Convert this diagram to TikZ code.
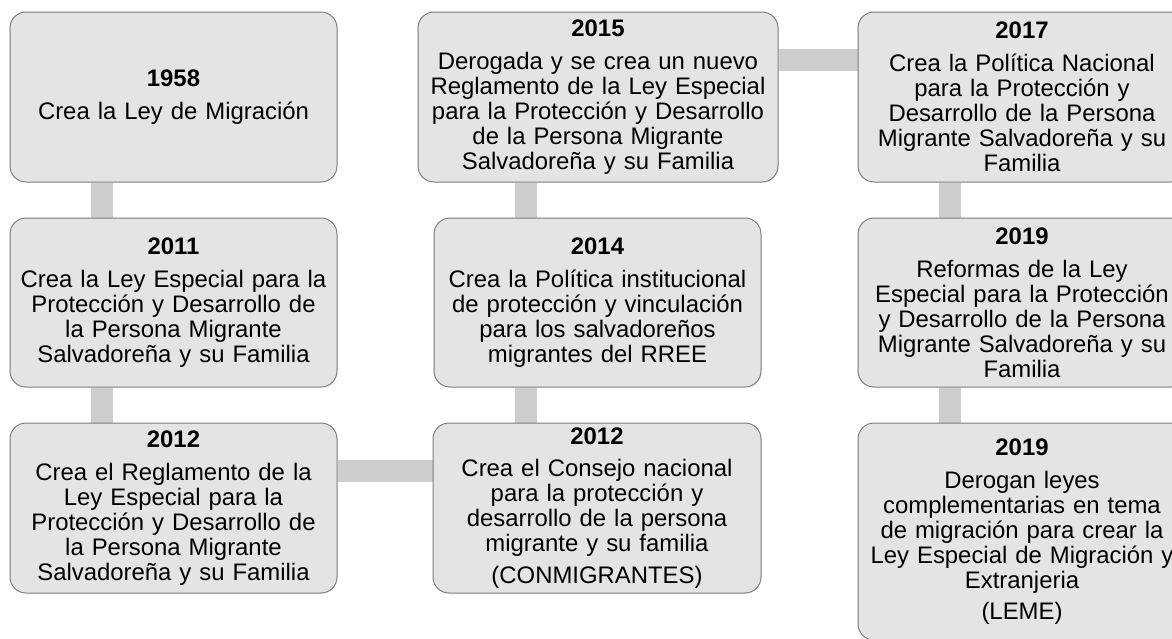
\documentclass[tikz,border=0pt]{standalone}
\usepackage{fontspec}
\setmainfont{Liberation Sans}
\usetikzlibrary{backgrounds}
\definecolor{boxfill}{RGB}{228,228,228}
\definecolor{boxline}{RGB}{125,125,125}
\definecolor{connfill}{RGB}{207,206,207}
\begin{document}
\begin{tikzpicture}[x=1pt,y=-1pt,
  evt/.style={draw=boxline, fill=boxfill, line width=1pt, rounded corners=16pt,
    inner sep=0pt, align=center, font=\fontsize{23.9}{25}\selectfont, text=black},
  conn/.style={draw=connfill, line width=22pt}]
\useasboundingbox (0,0) rectangle (1172,638);
% column 1
\node[evt, text width=327pt, minimum height=170pt] (a1) at (173.5,97)
  {\textbf{1958}\\[8pt]Crea la Ley de Migración};
\node[evt, text width=327pt, minimum height=169pt] (a2) at (173.5,302.5)
  {\textbf{2011}\\[8pt]Crea la Ley Especial para la\\Protección y Desarrollo de\\la Persona Migrante\\Salvadoreña y su Familia};
\node[evt, text width=327pt, minimum height=170pt] (a3) at (173.5,508)
  {\textbf{2012}\\[8pt]Crea el Reglamento de la\\Ley Especial para la\\Protección y Desarrollo de\\la Persona Migrante\\Salvadoreña y su Familia};
% column 2
\node[evt, text width=328pt, minimum height=170pt] (b3) at (597,508)
  {\textbf{2012}\\[7pt]Crea el Consejo nacional\\para la protección y\\desarrollo de la persona\\migrante y su familia\\[7pt](CONMIGRANTES)};
\node[evt, text width=327pt, minimum height=169pt] (b2) at (597.5,302.5)
  {\textbf{2014}\\[8pt]Crea la Política institucional\\de protección y vinculación\\para los salvadoreños\\migrantes del RREE};
\node[evt, text width=360pt, minimum height=170pt] (b1) at (598,97)
  {\textbf{2015}\\[8pt]Derogada y se crea un nuevo\\Reglamento de la Ley Especial\\para la Protección y Desarrollo\\de la Persona Migrante\\Salvadoreña y su Familia};
% column 3
\node[evt, text width=328pt, minimum height=170pt] (c1) at (1022,97)
  {\textbf{2017}\\[8pt]Crea la Política Nacional\\para la Protección y\\Desarrollo de la Persona\\Migrante Salvadoreña y su\\Familia};
\node[evt, text width=328pt, minimum height=169pt] (c2) at (1022,302.5)
  {\textbf{2019}\\[8pt]Reformas de la Ley\\Especial para la Protección\\y Desarrollo de la Persona\\Migrante Salvadoreña y su\\Familia};
\node[evt, text width=328pt, minimum height=217pt] (c3) at (1022,531.5)
  {\textbf{2019}\\[8pt]Derogan leyes\\complementarias en tema\\de migración para crear la\\Ley Especial de Migración y\\Extranjeria\\[6pt](LEME)};
% connectors
\begin{scope}[on background layer]
\draw[conn] ([xshift=-71.5pt]a1.south) -- ([xshift=-71.5pt]a2.north);
\draw[conn] ([xshift=-71.5pt]a2.south) -- ([xshift=-71.5pt]a3.north);
\draw[conn] ([yshift=37pt]a3.east) -- ([yshift=37pt]b3.west);
\draw[conn] ([xshift=-71pt]b3.north) -- ([xshift=-71.5pt]b2.south);
\draw[conn] ([xshift=-71.5pt]b2.north) -- ([xshift=-72pt]b1.south);
\draw[conn] ([yshift=37pt]b1.east) -- ([yshift=37pt]c1.west);
\draw[conn] ([xshift=-72pt]c1.south) -- ([xshift=-72pt]c2.north);
\draw[conn] ([xshift=-72pt]c2.south) -- ([xshift=-72pt]c3.north);
\end{scope}
\end{tikzpicture}
\end{document}
